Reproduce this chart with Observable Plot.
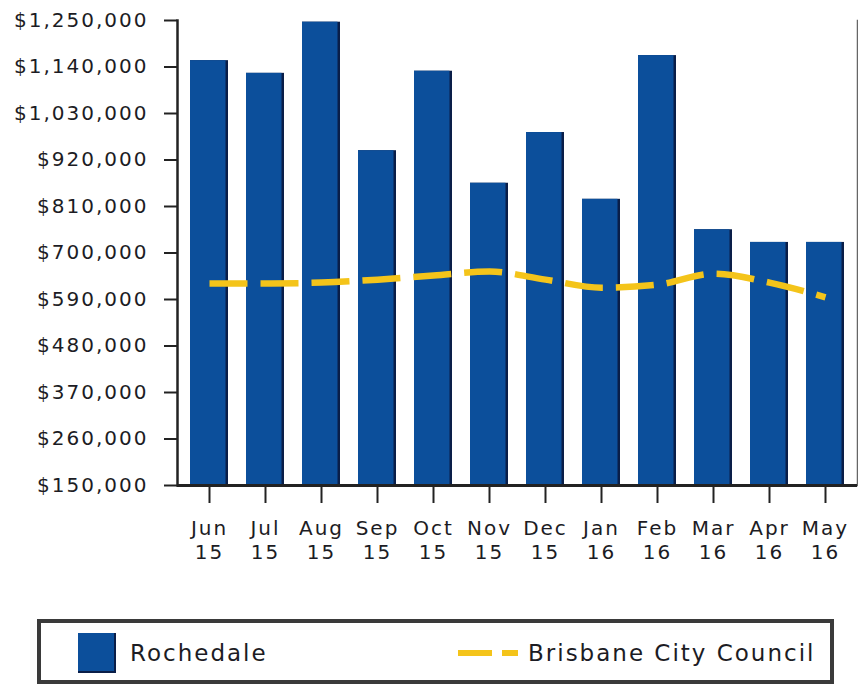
<!DOCTYPE html>
<html>
<head>
<meta charset="utf-8">
<script src="https://cdn.jsdelivr.net/npm/d3@7"></script>
<script src="https://cdn.jsdelivr.net/npm/@observablehq/plot@0.6"></script>
<style>
  html, body { margin: 0; padding: 0; background: #fff; }
  body { position: relative; width: 858px; height: 684px; overflow: hidden; font-family: "DejaVu Sans", sans-serif; }
  #chart { position: absolute; left: 0; top: 0; }
  #legend { position: absolute; left: 37px; top: 619px; width: 789px; height: 57px; border: 4px solid #3a3a3a; background: #fff; }
  .lg-item { position: absolute; display: flex; align-items: center; }
  .lg-text { font-size: 23px; letter-spacing: 2px; color: #1c1c24; }
</style>
</head>
<body>
<div id="chart"></div>
<div id="legend"></div>
<script>
const months = ["Jun 15","Jul 15","Aug 15","Sep 15","Oct 15","Nov 15","Dec 15","Jan 16","Feb 16","Mar 16","Apr 16","May 16"];
const rochedale = [1155000, 1125000, 1246000, 942000, 1130000, 865000, 985000, 827000, 1167000, 755000, 725000, 725000];
const brisbane = [628000, 628000, 630000, 637000, 647000, 656000, 637000, 618000, 625000, 651000, 630000, 595000];
const yTicks = [150000, 260000, 370000, 480000, 590000, 700000, 810000, 920000, 1030000, 1140000, 1250000];
const yTickLabels = ["$150,000","$260,000","$370,000","$480,000","$590,000","$700,000","$810,000","$920,000","$1,030,000","$1,140,000","$1,250,000"];
const seriesNames = ["Rochedale", "Brisbane City Council"];
const barColor = "#0c4f9b";
const barShade = "#0a1e48";
const lineColor = "#f4c41a";

const yMin = yTicks[0], yMax = yTicks[yTicks.length - 1];
const data = months.map((m, i) => ({month: m, roch: rochedale[i], bris: brisbane[i]}));

const plot = Plot.plot({
  width: 858,
  height: 600,
  marginLeft: 177,
  marginRight: 1,
  marginTop: 20,
  marginBottom: 115,
  style: {fontFamily: "DejaVu Sans", letterSpacing: "2px", color: "#1c1c24", background: "#fff"},
  x: {domain: months, paddingInner: 0.33, paddingOuter: 0.165, axis: null, label: null},
  y: {domain: [yMin, yMax], axis: null, label: null},
  marks: [
    Plot.barY(data, {x: "month", y1: yMin, y2: "roch", fill: barShade}),
    Plot.barY(data, {x: "month", y1: yMin, y2: "roch", fill: barColor, insetRight: 2.5}),
    Plot.line(data, {x: "month", y: "bris", stroke: lineColor, strokeWidth: 6.5, strokeDasharray: "38,13", curve: "monotone-x", strokeLinecap: "butt"}),
    Plot.frame({anchor: "right", stroke: "#666", strokeWidth: 1.5}),
    Plot.frame({anchor: "left", stroke: "#222", strokeWidth: 2.5}),
    Plot.ruleY([yMin], {stroke: "#222", strokeWidth: 3}),
    Plot.axisY({ticks: yTicks, label: null, tickFormat: (d) => yTickLabels[yTicks.indexOf(d)], tickSize: 13, tickPadding: 16, fontSize: 20, strokeWidth: 2, stroke: "#222", fill: "#1c1c24"}),
    Plot.axisX({label: null, tickFormat: (d) => d.replace(" ", "\n"), tickSize: 18, tickPadding: 14, fontSize: 20, lineHeight: 1.2, strokeWidth: 2, stroke: "#222", fill: "#1c1c24"})
  ]
});
document.getElementById("chart").appendChild(plot);

// Legend
const legend = document.getElementById("legend");
legend.innerHTML = `
  <div class="lg-item" style="left:37px; top:10px; height:40px;">
    <div style="width:38px;height:40px;background:${barColor};box-shadow:inset -2px -2px 0 ${barShade};"></div>
    <span class="lg-text" style="margin-left:14px;">${seriesNames[0]}</span>
  </div>
  <div class="lg-item" style="left:417px; top:10px; height:40px;">
    <svg width="62" height="10"><line x1="0" y1="5" x2="60" y2="5" stroke="${lineColor}" stroke-width="6" stroke-dasharray="34,10"/></svg>
    <span class="lg-text" style="margin-left:8px;">${seriesNames[1]}</span>
  </div>`;
</script>
</body>
</html>
